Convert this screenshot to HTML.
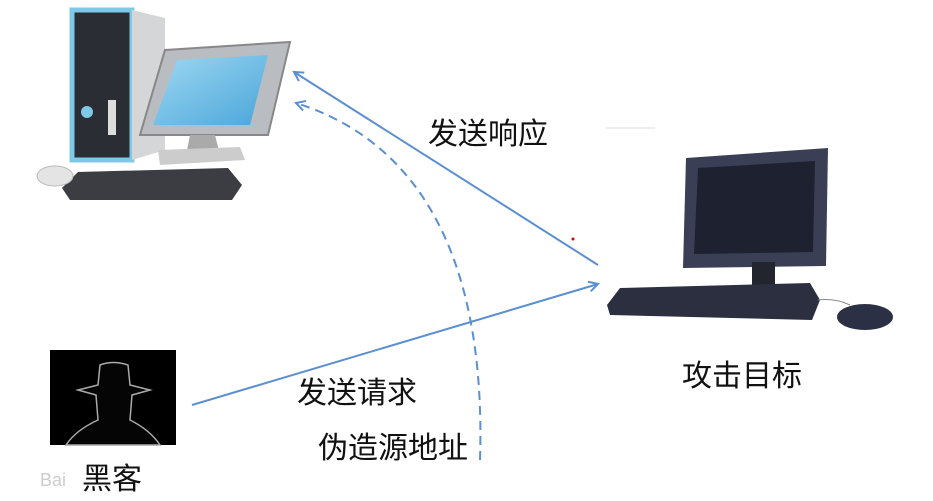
<!DOCTYPE html>
<html><head><meta charset="utf-8"><style>
body{margin:0;background:#fff;width:933px;height:501px;overflow:hidden}
svg{display:block}
text{font-family:"Liberation Sans","Noto Sans CJK SC",sans-serif;font-size:30px;fill:#111}
</style></head><body>
<svg width="933" height="501" viewBox="0 0 933 501">
<defs>
<marker id="ah" markerWidth="12" markerHeight="12" refX="10" refY="6" orient="auto" markerUnits="userSpaceOnUse">
<path d="M1,1 L10,6 L1,11" fill="none" stroke="#5b8fd0" stroke-width="2"/></marker>
<linearGradient id="scr" x1="0" y1="0" x2="1" y2="1"><stop offset="0" stop-color="#9fd8f2"/><stop offset="1" stop-color="#4aa6da"/></linearGradient>
</defs>
<!-- left computer -->
<rect x="72" y="10" width="60" height="150" fill="#2a2d33" stroke="#7fc8e8" stroke-width="5"/>
<polygon points="132,10 165,18 165,150 132,160" fill="#d4d6d8"/>
<rect x="108" y="100" width="8" height="35" fill="#ddd"/>
<circle cx="87" cy="112" r="6" fill="#7fc8e8"/>
<polygon points="165,50 290,42 268,135 140,135" fill="#b9bcc0" stroke="#888" stroke-width="2"/>
<polygon points="177,60 268,55 250,125 153,125" fill="url(#scr)"/>
<polygon points="190,135 215,135 220,155 185,160" fill="#aaa"/>
<polygon points="158,150 240,147 245,160 160,165" fill="#ccc"/>
<polygon points="78,172 228,168 242,185 232,200 70,200 62,188" fill="#3b3d42"/>
<ellipse cx="55" cy="176" rx="18" ry="10" fill="#e4e4e4" stroke="#bbb"/>
<!-- right computer -->
<polygon points="686,158 828,148 826,266 683,268" fill="#3a3f55"/>
<polygon points="698,168 815,161 813,252 694,254" fill="#1e2130"/>
<rect x="752" y="262" width="23" height="28" fill="#22252e"/>
<polygon points="620,288 810,283 820,300 812,320 610,315 607,305" fill="#2b2f3f"/>
<path d="M818,300 Q835,298 850,305" stroke="#888" fill="none"/>
<ellipse cx="865" cy="317" rx="28" ry="13" fill="#2c3044"/>
<!-- hacker -->
<rect x="50" y="350" width="126" height="95" fill="#000"/>
<path d="M78,390 L98,385 L100,365 Q113,360 128,365 L130,385 L150,390 L132,395 L130,420 Q150,430 160,445 L66,445 Q76,430 98,420 L96,395 Z" fill="#050505" stroke="#aaa" stroke-width="1.5"/>
<!-- arrows -->
<line x1="598" y1="265" x2="294" y2="72" stroke="#5b8fd0" stroke-width="2" marker-end="url(#ah)"/>
<line x1="192" y1="405" x2="598" y2="284" stroke="#5b8fd0" stroke-width="2" marker-end="url(#ah)"/>
<path d="M480,460 C485,300 445,150 296,103" fill="none" stroke="#5b8fd0" stroke-width="2" stroke-dasharray="9,6" marker-end="url(#ah)"/>
<circle cx="573" cy="239" r="1.5" fill="#d00"/>
<line x1="606" y1="128" x2="655" y2="128" stroke="#ddd"/>
<!-- labels -->
<text x="428" y="144">发送响应</text>
<text x="682" y="386">攻击目标</text>
<text x="297" y="403">发送请求</text>
<text x="318" y="458">伪造源地址</text>
<text x="82" y="489">黑客</text>
<text x="40" y="486" style="font-size:18px;fill:#ccc">Bai</text>
</svg>
</body></html>
